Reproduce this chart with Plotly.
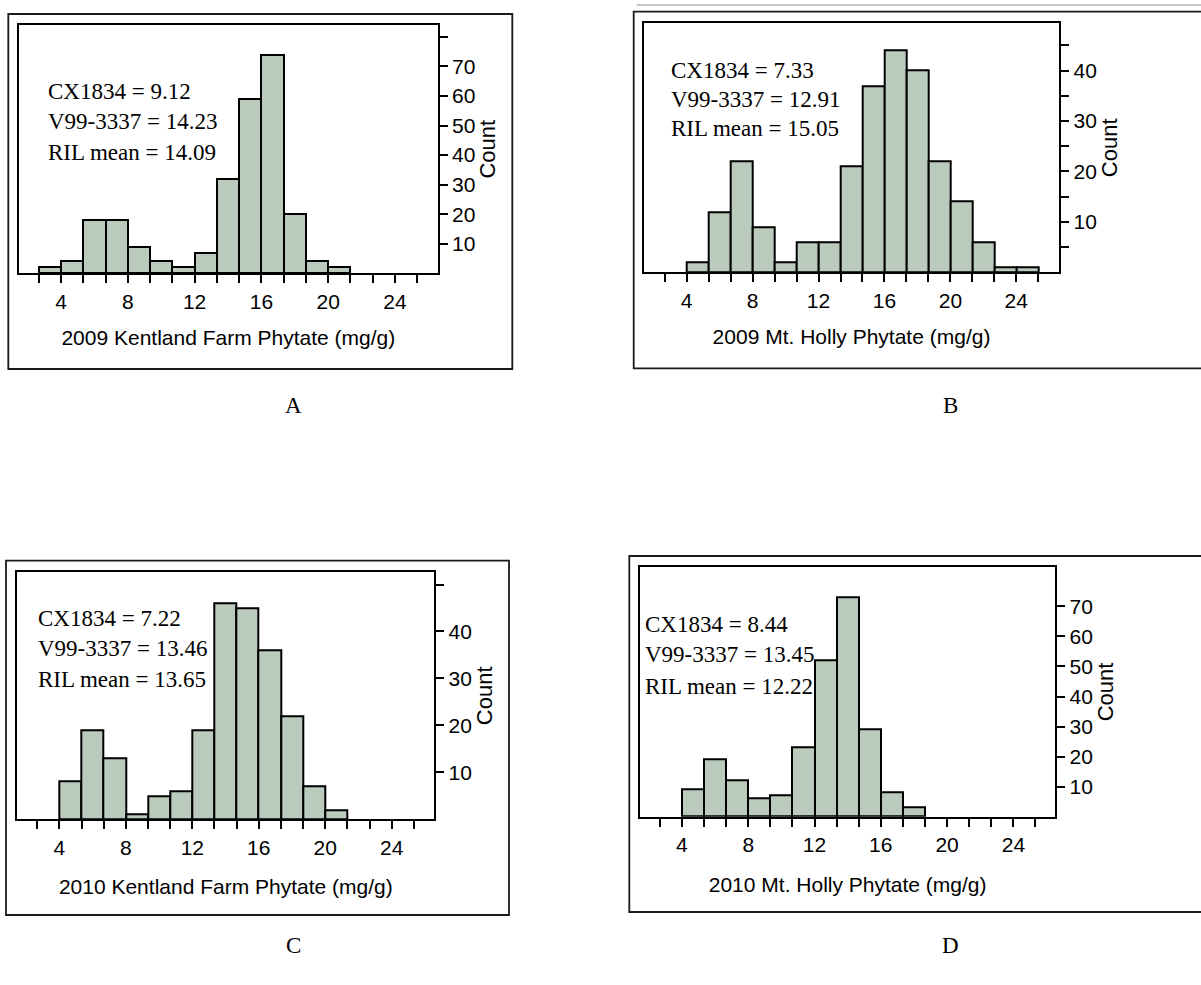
import plotly.graph_objects as go

W, H = 1201, 985

# ---------------- data ----------------
BIN_WIDTH = 4 / 3
X_MAJOR_STEP = 4

A_TITLE = "2009 Kentland Farm Phytate (mg/g)"
A_STATS = ["CX1834 = 9.12", "V99-3337 = 14.23", "RIL mean = 14.09"]
A_FIRST_BIN = 8 / 3
A_COUNTS = [2, 4, 18, 18, 9, 4, 2, 7, 32, 59, 74, 20, 4, 2]
A_YTICKS = [10, 20, 30, 40, 50, 60, 70, 80]
A_YLABELS = ["10", "20", "30", "40", "50", "60", "70", ""]

B_TITLE = "2009 Mt. Holly Phytate (mg/g)"
B_STATS = ["CX1834 = 7.33", "V99-3337 = 12.91", "RIL mean = 15.05"]
B_FIRST_BIN = 4
B_COUNTS = [2, 12, 22, 9, 2, 6, 6, 21, 37, 44, 40, 22, 14, 6, 1, 1]
B_YTICKS = [5, 10, 15, 20, 25, 30, 35, 40, 45]
B_YLABELS = ["", "10", "", "20", "", "30", "", "40", ""]

C_TITLE = "2010 Kentland Farm Phytate (mg/g)"
C_STATS = ["CX1834 = 7.22", "V99-3337 = 13.46", "RIL mean = 13.65"]
C_FIRST_BIN = 4
C_COUNTS = [8, 19, 13, 1, 5, 6, 19, 46, 45, 36, 22, 7, 2]
C_YTICKS = [10, 20, 30, 40, 50]
C_YLABELS = ["10", "20", "30", "40", ""]

D_TITLE = "2010 Mt. Holly Phytate (mg/g)"
D_STATS = ["CX1834 = 8.44", "V99-3337 = 13.45", "RIL mean = 12.22"]
D_FIRST_BIN = 4
D_COUNTS = [9, 19, 12, 6, 7, 23, 52, 73, 29, 8, 3]
D_YTICKS = [10, 20, 30, 40, 50, 60, 70]
D_YLABELS = ["10", "20", "30", "40", "50", "60", "70"]

Y_TITLE = "Count"
LETTERS = ["A", "B", "C", "D"]

PANELS = [
    dict(title=A_TITLE, stats=A_STATS, first=A_FIRST_BIN, counts=A_COUNTS, yt=A_YTICKS, yl=A_YLABELS),
    dict(title=B_TITLE, stats=B_STATS, first=B_FIRST_BIN, counts=B_COUNTS, yt=B_YTICKS, yl=B_YLABELS),
    dict(title=C_TITLE, stats=C_STATS, first=C_FIRST_BIN, counts=C_COUNTS, yt=C_YTICKS, yl=C_YLABELS),
    dict(title=D_TITLE, stats=D_STATS, first=D_FIRST_BIN, counts=D_COUNTS, yt=D_YTICKS, yl=D_YLABELS),
]

# ---------------- geometry (pixels) ----------------
GEOM = [
    dict(plot=(19, 25, 437.7, 273.3), outer=(8.3, 14, 512.3, 369), xr=(1.485, 26.56), yr=(0, 84),
         stats=(45.7, [91.7, 121.7, 152.3]), letter=(293, 405), standoff=19),
    dict(plot=(643.7, 23.3, 1059.3, 272.3), outer=(633.7, 11.7, 1240, 368.3), xr=(1.39, 26.61), yr=(0, 49.4),
         stats=(669, [70.7, 99.8, 128.3]), letter=(950, 405), standoff=19),
    dict(plot=(17.3, 572.3, 434.3, 819.3), outer=(6, 560.7, 509, 915), xr=(1.47, 26.56), yr=(0, 52.6),
         stats=(35.7, [618.3, 648.3, 679]), letter=(293, 945), standoff=22),
    dict(plot=(640, 567.3, 1055.3, 816.7), outer=(629.3, 556, 1240, 912), xr=(1.47, 26.53), yr=(0, 83),
         stats=(642.7, [624, 654, 686]), letter=(950, 945), standoff=22),
]

BAR_FILL = "#BACABC"
SANS = "Liberation Sans, Arial, sans-serif"
SERIF = "Liberation Serif, Times New Roman, serif"


def fx(p):
    return p / W


def fy(p):
    return 1 - p / H


fig = go.Figure()
layout = dict(
    width=W, height=H, autosize=False,
    margin=dict(l=0, r=0, t=0, b=0, pad=0),
    paper_bgcolor="white", plot_bgcolor="white",
    showlegend=False, bargap=0,
)
shapes = []
annotations = []

for i, (p, g) in enumerate(zip(PANELS, GEOM)):
    n = "" if i == 0 else str(i + 1)
    xs = [p["first"] + k * BIN_WIDTH for k in range(len(p["counts"]))]
    fig.add_trace(go.Bar(
        x=xs, y=p["counts"], width=BIN_WIDTH, offset=0,
        marker=dict(color=BAR_FILL, line=dict(color="black", width=2)),
        xaxis="x" + n, yaxis="y" + n, hoverinfo="x+y",
    ))
    x0, y0, x1, y1 = g["plot"]
    layout["xaxis" + n] = dict(
        domain=[fx(x0), fx(x1)], range=list(g["xr"]), anchor="y" + n,
        tickmode="linear", tick0=0, dtick=X_MAJOR_STEP,
        ticks="outside", ticklen=8, tickwidth=1.6, tickcolor="black",
        minor=dict(tickmode="linear", tick0=0, dtick=BIN_WIDTH, ticks="outside",
                   ticklen=8, tickwidth=1.6, tickcolor="black", showgrid=False),
        showline=True, linecolor="black", linewidth=2.2, mirror=True,
        showgrid=False, zeroline=False, automargin=False,
        tickfont=dict(family=SANS, size=21, color="black"),
        title=dict(text=p["title"], font=dict(family=SANS, size=21, color="black"),
                   standoff=g["standoff"]),
    )
    layout["yaxis" + n] = dict(
        domain=[fy(y1), fy(y0)], range=list(g["yr"]), anchor="x" + n, side="right",
        tickmode="array", tickvals=p["yt"], ticktext=p["yl"],
        ticks="outside", ticklen=8, tickwidth=1.6, tickcolor="black",
        showline=True, linecolor="black", linewidth=2.2, mirror=True,
        showgrid=False, zeroline=False, automargin=False,
        tickfont=dict(family=SANS, size=21, color="black"),
        title=dict(text=Y_TITLE, font=dict(family=SANS, size=22, color="black"), standoff=2),
    )
    ox0, oy0, ox1, oy1 = g["outer"]
    shapes.append(dict(type="rect", xref="paper", yref="paper",
                       x0=fx(ox0), x1=fx(ox1), y0=fy(oy1), y1=fy(oy0),
                       line=dict(color="#1a1a1a", width=1.8), fillcolor="rgba(0,0,0,0)", layer="below"))
    sx, sys_ = g["stats"]
    for line, yy in zip(p["stats"], sys_):
        annotations.append(dict(text=line, xref="paper", yref="paper", x=fx(sx), y=fy(yy),
                                xanchor="left", yanchor="middle", showarrow=False,
                                font=dict(family=SERIF, size=23, color="black")))
    lx, ly = g["letter"]
    annotations.append(dict(text=LETTERS[i], xref="paper", yref="paper", x=fx(lx), y=fy(ly),
                            xanchor="center", yanchor="middle", showarrow=False,
                            font=dict(family=SERIF, size=23, color="black")))

# thin grey rule above panel B
shapes.append(dict(type="line", xref="paper", yref="paper", x0=fx(636.7), x1=1.0, y0=fy(5), y1=fy(5),
                   line=dict(color="#b5b5b5", width=1.5)))

layout["shapes"] = shapes
layout["annotations"] = annotations
fig.update_layout(**layout)
fig.write_html("out.html")
